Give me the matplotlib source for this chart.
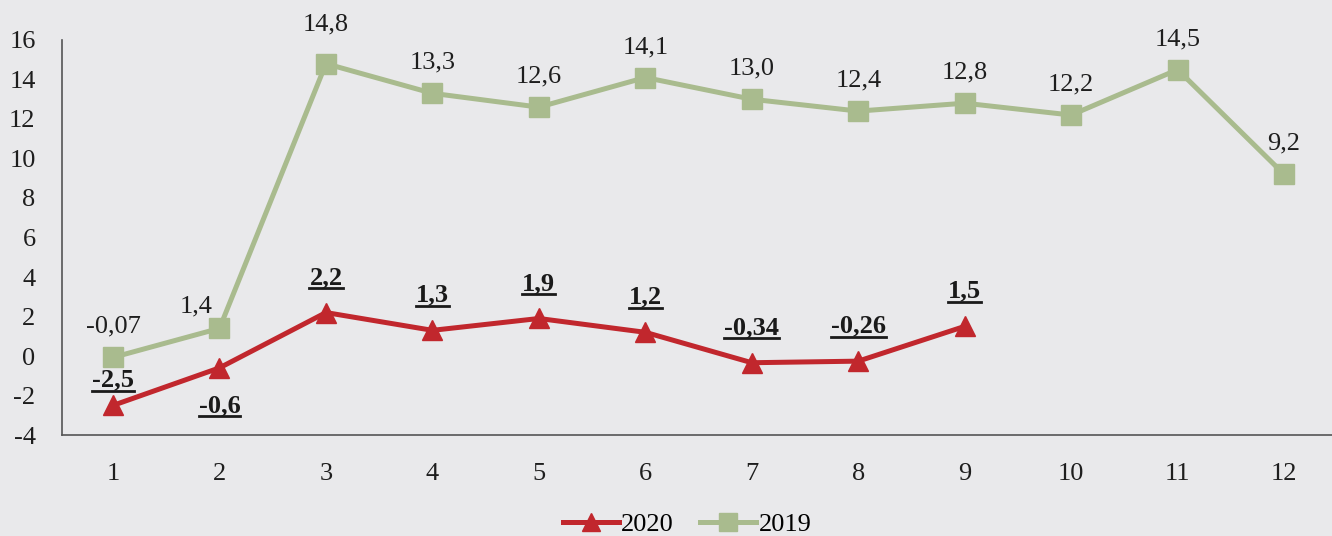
import matplotlib
matplotlib.use("Agg")
import matplotlib.pyplot as plt
from matplotlib.lines import Line2D

months = [1, 2, 3, 4, 5, 6, 7, 8, 9, 10, 11, 12]
vals_2019 = [-0.07, 1.4, 14.8, 13.3, 12.6, 14.1, 13.0, 12.4, 12.8, 12.2, 14.5, 9.2]
months_2020 = [1, 2, 3, 4, 5, 6, 7, 8, 9]
vals_2020 = [-2.5, -0.6, 2.2, 1.3, 1.9, 1.2, -0.34, -0.26, 1.5]
labels_2019 = ["-0,07", "1,4", "14,8", "13,3", "12,6", "14,1", "13,0", "12,4", "12,8", "12,2", "14,5", "9,2"]
labels_2020 = ["-2,5", "-0,6", "2,2", "1,3", "1,9", "1,2", "-0,34", "-0,26", "1,5"]
yticks = [-4, -2, 0, 2, 4, 6, 8, 10, 12, 14, 16]

plt.rcParams['font.family'] = ['Liberation Serif', 'DejaVu Serif']
bg = '#e9e9eb'
red = '#c1272d'
green = '#a9bb8e'
fs = 19

fig = plt.figure(figsize=(13.32, 5.36), dpi=100, facecolor=bg)
ax = fig.add_axes([0.0465, 0.1884, 0.9535, 0.737], facecolor=bg)

ax.plot(months_2020, vals_2020, color=red, lw=3.6, marker='^', markersize=14,
        label='2020', zorder=4)
ax.plot(months, vals_2019, color=green, lw=3.6, marker='s', markersize=14,
        label='2019', zorder=3)

ax.set_xlim(0.52, 12.45)
ax.set_ylim(-4, 16)
ax.set_yticks(yticks)
ax.set_yticklabels([str(t) for t in yticks])
ax.set_xticks(months)
ax.tick_params(axis='both', length=0, labelsize=fs, colors='#1e1e1e')
ax.tick_params(axis='x', pad=20)
ax.tick_params(axis='y', pad=19)
for s in ['top', 'right']:
    ax.spines[s].set_visible(False)
for s in ['left', 'bottom']:
    ax.spines[s].set_color('#555555')
    ax.spines[s].set_linewidth(1.2)

# 2019 labels
for i, (m, v, t) in enumerate(zip(months, vals_2019, labels_2019)):
    dx, dy = 0, 14
    if i == 1:
        dx, dy = -17, 8
    if i == 2:
        dy = 20
    ax.annotate(t, (m, v), xytext=(dx, dy), textcoords='offset points',
                ha='center', va='bottom', fontsize=fs, color='#1e1e1e')

# 2020 labels, bold underlined
texts = []
for i, (m, v, t) in enumerate(zip(months_2020, vals_2020, labels_2020)):
    if i == 1:
        txt = ax.annotate(t, (m, v), xytext=(0, -19), textcoords='offset points',
                          ha='center', va='top', fontsize=fs, fontweight='bold', color='#1a1a1a')
    else:
        dy = 10 if i == 0 else 17
        txt = ax.annotate(t, (m, v), xytext=(0, dy), textcoords='offset points',
                          ha='center', va='bottom', fontsize=fs, fontweight='bold', color='#1a1a1a')
    texts.append(txt)

leg = fig.legend(loc='lower center', bbox_to_anchor=(0.516, -0.045), ncol=2, frameon=False,
                 fontsize=fs, handlelength=2.1, columnspacing=1.0, handletextpad=0.1,
                 markerscale=0.9)

fig.canvas.draw()
r = fig.canvas.get_renderer()
W, H = fig.bbox.width, fig.bbox.height
for txt in texts:
    bb = txt.get_window_extent(r)
    y = bb.y0 + 1.0
    fig.add_artist(Line2D([bb.x0 / W, bb.x1 / W], [y / H, y / H], color='#1a1a1a', lw=2.0,
                          transform=fig.transFigure))

fig.savefig('out.png', dpi=100, facecolor=bg)
